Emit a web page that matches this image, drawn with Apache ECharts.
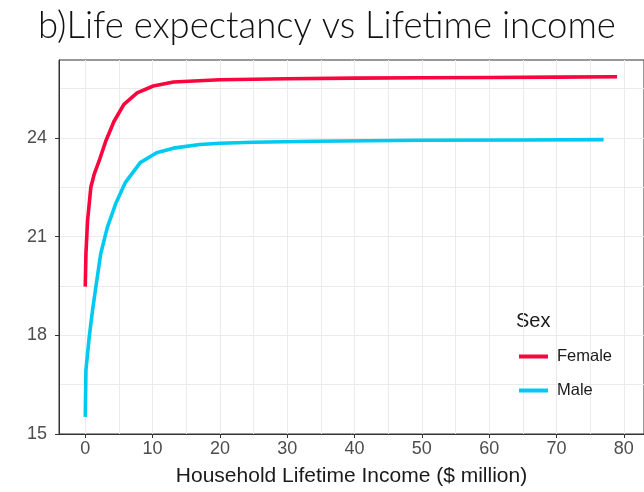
<!DOCTYPE html>
<html>
<head>
<meta charset="utf-8">
<script src="https://cdn.jsdelivr.net/npm/echarts@6/dist/echarts.min.js"></script>
<style>
  html, body { margin: 0; padding: 0; background: #fff; }
  #chart { width: 644px; height: 492px; }
</style>
</head>
<body>
<div id="chart"></div>
<script>
// 数据（从图上读出来的）
var femaleX = [0, 0.1, 0.34, 0.83, 1.33, 2.06, 3.04, 4.26, 5.74, 7.7, 10.1, 13.1, 20, 30, 40, 50, 60, 70, 79];
var femaleY = [19.48, 20.48, 21.48, 22.5, 22.9, 23.3, 23.9, 24.5, 25.02, 25.37, 25.58, 25.7, 25.77, 25.8, 25.82, 25.83, 25.84, 25.85, 25.86];
var maleX = [0, 0.1, 0.59, 1.08, 1.57, 2.3, 3.28, 4.5, 5.97, 8.17, 10.6, 13.1, 17, 20, 25, 34, 50, 65, 77];
var maleY = [15.52, 16.94, 17.95, 18.76, 19.46, 20.48, 21.28, 21.99, 22.65, 23.25, 23.55, 23.69, 23.8, 23.84, 23.87, 23.9, 23.93, 23.94, 23.95];

var xTicks = [0, 10, 20, 30, 40, 50, 60, 70, 80];
var xMinor = [5, 15, 25, 35, 45, 55, 65, 75];
var yTicks = [15, 18, 21, 24];
var yMinor = [16.5, 19.5, 22.5, 25.5];

function pairs(xs, ys) {
    return xs.map(function (x, i) { return [x, ys[i]]; });
}

var chart = echarts.init(document.getElementById('chart'));

var gridLine = { show: true, lineStyle: { color: '#EBEBEB', width: 1 } };

chart.setOption({
    animation: false,
    title: {
        text: 'b)Life expectancy vs Lifetime income',
        left: 33,
        top: 3,
        textStyle: { fontFamily: 'Lato', fontWeight: 300, fontSize: 36.5, color: '#111' }
    },
    grid: {
        left: 59, top: 60, right: -10, bottom: 57,
        show: true, borderColor: '#333', borderWidth: 1, backgroundColor: 'transparent'
    },
    legend: {
        orient: 'vertical',
        left: 514,
        top: 343,
        icon: 'rect',
        itemWidth: 29,
        itemHeight: 4,
        itemGap: 17,
        textStyle: { fontFamily: 'Liberation Sans', fontSize: 16.5, color: '#1a1a1a', padding: [0, 0, 0, 4] },
        data: ['Female', 'Male']
    },
    graphic: [{
        type: 'text', left: 516, top: 311,
        style: { text: 'Sex', font: '20px "Liberation Sans"', fill: '#1a1a1a' }
    }],
    xAxis: [{
        type: 'value', min: -3.9, max: 83,
        name: 'Household Lifetime Income ($ million)',
        nameLocation: 'middle', nameGap: 32,
        nameTextStyle: { fontFamily: 'Liberation Sans', fontSize: 21, color: '#1a1a1a' },
        axisLine: { show: true, onZero: false, lineStyle: { color: '#333', width: 1 } },
        axisTick: { show: true, customValues: xTicks, length: 4, lineStyle: { color: '#333' } },
        axisLabel: { customValues: xTicks, fontFamily: 'Liberation Sans', fontSize: 18, color: '#4D4D4D', margin: 6 },
        splitLine: gridLine
    }, {
        type: 'value', min: -3.9, max: 83,
        axisLine: { show: false },
        axisTick: { show: false, customValues: xMinor },
        axisLabel: { show: false },
        splitLine: gridLine
    }],
    yAxis: [{
        type: 'value', min: 15, max: 26.37,
        axisLine: { show: true, onZero: false, lineStyle: { color: '#333', width: 1 } },
        axisTick: { show: true, customValues: yTicks, length: 4, lineStyle: { color: '#333' } },
        axisLabel: { customValues: yTicks, fontFamily: 'Liberation Sans', fontSize: 18, color: '#4D4D4D', margin: 12 },
        splitLine: gridLine
    }, {
        type: 'value', min: 15, max: 26.37, position: 'left',
        axisLine: { show: false },
        axisTick: { show: false, customValues: yMinor },
        axisLabel: { show: false },
        splitLine: gridLine
    }],
    series: [{
        name: 'Female',
        type: 'line',
        data: pairs(femaleX, femaleY),
        showSymbol: false,
        smooth: false,
        itemStyle: { color: '#F8063D' },
        lineStyle: { color: '#F8063D', width: 3.6, join: 'round', cap: 'butt' },
        z: 3
    }, {
        name: 'Male',
        type: 'line',
        data: pairs(maleX, maleY),
        showSymbol: false,
        smooth: false,
        itemStyle: { color: '#00CAF0' },
        lineStyle: { color: '#00CAF0', width: 3.6, join: 'round', cap: 'butt' },
        z: 3
    }]
});
</script>
</body>
</html>
